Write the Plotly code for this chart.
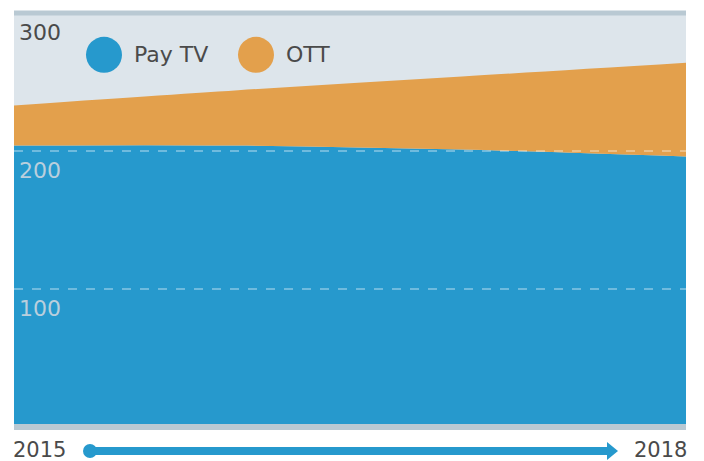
import plotly.graph_objects as go

years = [2015, 2016, 2017, 2018]
pay_tv = [204, 204, 201, 196]
ott = [29, 40, 53, 68]
ytick_vals = [100, 200, 300]
legend_names = ["Pay TV", "OTT"]
y_range = [0, 300]

blue = "#2699cd"
orange = "#e3a04c"
band = "#b9c9d3"
text_col = "#4a4a4a"
font = "DejaVu Sans"

fig = go.Figure()
fig.add_trace(go.Scatter(x=years, y=pay_tv, name="Pay TV", stackgroup="one",
                         mode="lines", line=dict(width=0, shape="spline", color=blue),
                         fillcolor=blue, showlegend=False))
fig.add_trace(go.Scatter(x=years, y=ott, name="OTT", stackgroup="one",
                         mode="lines", line=dict(width=0, shape="spline", color=orange),
                         fillcolor=orange, showlegend=False))

# gridlines
for v in ytick_vals[:-1]:
    fig.add_shape(type="line", xref="paper", x0=0, x1=1, yref="y", y0=v, y1=v,
                  line=dict(color="rgba(255,255,255,0.45)", width=1.5, dash="dash"), layer="above")
# thick bands at bottom and top (paper refs so they are not clipped)
for v, w in [(y_range[0], 6), (ytick_vals[-1], 5)]:
    py = (v - y_range[0]) / (y_range[1] - y_range[0])
    fig.add_shape(type="line", xref="paper", x0=0, x1=1, yref="paper", y0=py, y1=py,
                  line=dict(color=band, width=w), layer="above")

# tick labels inside the plot
for v in ytick_vals:
    fig.add_annotation(x=0, xref="paper", y=v, yref="y", text=str(v), showarrow=False,
                       xanchor="left", yanchor="top", xshift=3, yshift=-5,
                       font=dict(family=font, size=22,
                                 color=text_col if v == ytick_vals[-1] else "#b9cfdd"))

# legend
leg_y = 0.899
for i, (name, col) in enumerate(zip(legend_names, [blue, orange])):
    cx = (104 + 152 * i - 14) / 672
    fig.add_shape(type="circle", xref="paper", yref="paper", xsizemode="pixel", ysizemode="pixel",
                  xanchor=cx, yanchor=leg_y, x0=-18, x1=18, y0=-18, y1=18,
                  fillcolor=col, line=dict(width=0), layer="above")
    fig.add_annotation(x=cx, xref="paper", y=leg_y, yref="paper", text=name, showarrow=False,
                       xanchor="left", yanchor="middle", xshift=28,
                       font=dict(family=font, size=22, color=text_col))

# time arrow
ay = -0.058
x_start = (90 - 14) / 672
x_end = (618 - 14) / 672
fig.add_shape(type="line", xref="paper", yref="paper", x0=x_start, x1=x_end - 0.012, y0=ay, y1=ay,
              line=dict(color=blue, width=8))
fig.add_shape(type="circle", xref="paper", yref="paper", xsizemode="pixel", ysizemode="pixel",
              xanchor=x_start, yanchor=ay, x0=-7, x1=7, y0=-7, y1=7,
              fillcolor=blue, line=dict(width=0))
fig.add_shape(type="path", xref="paper", yref="paper", xsizemode="pixel", ysizemode="pixel",
              xanchor=x_end, yanchor=ay, path="M -11,-9 L 0,0 L -11,9 Z",
              fillcolor=blue, line=dict(width=0))
fig.add_annotation(x=0, xref="paper", y=ay, yref="paper", text=str(years[0]), showarrow=False,
                   xanchor="left", yanchor="middle", xshift=-2, yshift=1, borderpad=0,
                   font=dict(family=font, size=21, color=text_col))
fig.add_annotation(x=1, xref="paper", y=ay, yref="paper", text=str(years[-1]), showarrow=False,
                   xanchor="right", yanchor="middle", xshift=2, yshift=1, borderpad=0,
                   font=dict(family=font, size=21, color=text_col))

fig.update_layout(
    width=704, height=461,
    margin=dict(l=14, r=18, t=13, b=34),
    plot_bgcolor="#dde5eb", paper_bgcolor="white",
    xaxis=dict(range=[years[0], years[-1]], showgrid=False, zeroline=False,
               showticklabels=False, fixedrange=True),
    yaxis=dict(range=y_range, showgrid=False, zeroline=False,
               showticklabels=False, fixedrange=True),
)

fig.write_html("out.html", config={"displayModeBar": False},
               post_script="document.body.style.margin='0';document.body.style.overflow='hidden';")
